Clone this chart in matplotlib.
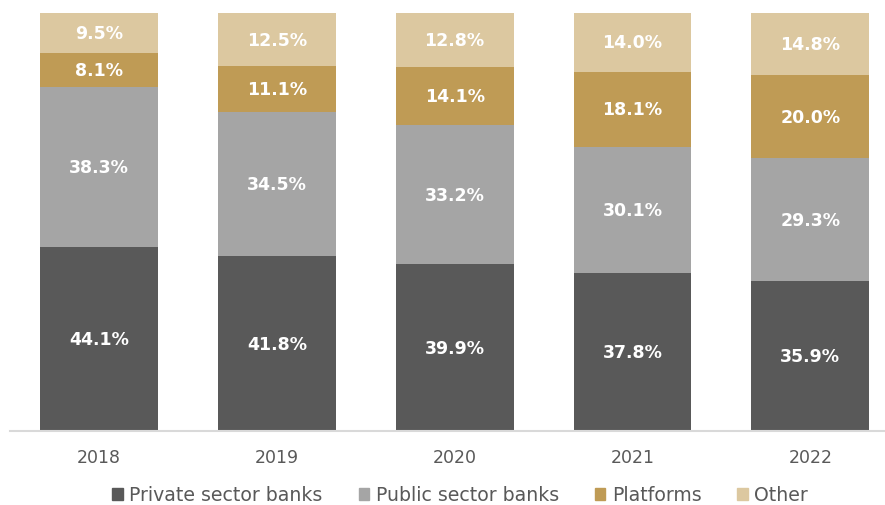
import matplotlib
matplotlib.use("Agg")
import matplotlib.pyplot as plt
from matplotlib.patches import Patch
import numpy as np

years = ["2018", "2019", "2020", "2021", "2022"]
private_banks = [44.1, 41.8, 39.9, 37.8, 35.9]
public_banks = [38.3, 34.5, 33.2, 30.1, 29.3]
platforms = [8.1, 11.1, 14.1, 18.1, 20.0]
other = [9.5, 12.5, 12.8, 14.0, 14.8]

series = [
    ("Private sector banks", private_banks, "#595959"),
    ("Public sector banks", public_banks, "#a5a5a5"),
    ("Platforms", platforms, "#bf9b55"),
    ("Other", other, "#dcc8a0"),
]

plt.rcParams["font.family"] = ["DejaVu Sans"]

fig = plt.figure(figsize=(8.85, 5.06), dpi=100)
ax = fig.add_axes([10 / 885, 74 / 506, 875 / 885, 418 / 506])

x = np.arange(len(years))
bottom = np.zeros(len(years))
for name, vals, col in series:
    vals = np.array(vals)
    ax.bar(x, vals, width=118 / 178, bottom=bottom, color=col, label=name)
    for xi, b, v in zip(x, bottom, vals):
        ax.text(xi, b + v / 2, f"{v:.1f}%", ha="center", va="center",
                color="white", fontsize=12.5, fontweight="bold")
    bottom += vals

ax.set_xlim(-0.5, 4.42)
ax.set_ylim(0, 100)
ax.set_xticks(x)
ax.set_xticklabels(years, fontsize=12.5, color="#595959")
ax.tick_params(axis="x", length=0, pad=12)
ax.set_yticks([])
for side in ("top", "right", "left"):
    ax.spines[side].set_visible(False)
ax.spines["bottom"].set_color("#d9d9d9")
ax.spines["bottom"].set_linewidth(1.5)

handles = [Patch(color=col, label=name) for name, _, col in series]
fig.legend(handles=handles, loc="center", bbox_to_anchor=(0.52, 10 / 506),
           ncol=4, frameon=False, fontsize=13.6, handlelength=0.55, handleheight=0.55,
           handletextpad=0.35, columnspacing=1.9, labelcolor="#595959")

fig.savefig("out.png", dpi=100)
